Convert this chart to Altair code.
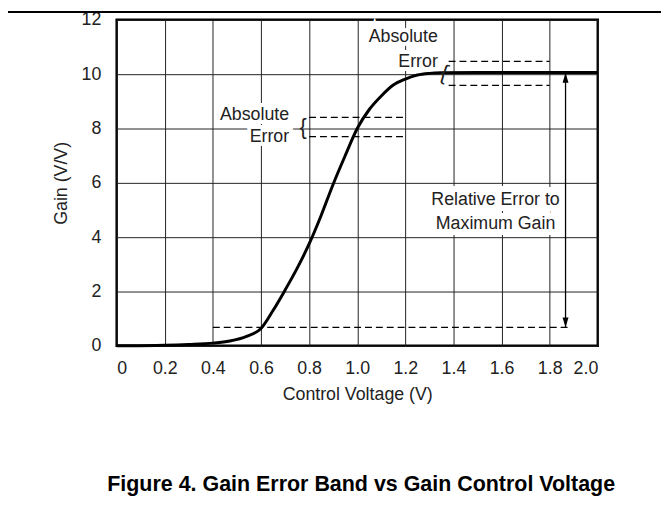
import altair as alt
import pandas as pd

FONT = "Liberation Sans"

# Gain curve (Control Voltage V -> Gain V/V)
curve_x = [0.0, 0.2, 0.3, 0.4, 0.47, 0.54, 0.6, 0.65, 0.7, 0.75, 0.8, 0.85, 0.9,
           0.95, 1.0, 1.05, 1.1, 1.15, 1.2, 1.25, 1.3, 1.35, 1.5, 2.0]
curve_y = [0.0, 0.02, 0.05, 0.1, 0.18, 0.35, 0.64, 1.3, 2.05, 2.85, 3.75, 4.8, 5.95,
           7.0, 8.0, 8.7, 9.2, 9.6, 9.82, 9.97, 10.03, 10.05, 10.06, 10.06]

# Dashed reference segments
dash_x1 = [0.4, 0.8, 0.8, 1.38, 1.38]
dash_x2 = [1.88, 1.2, 1.2, 1.8, 1.8]
dash_y = [0.68, 8.41, 7.70, 10.47, 9.59]

# Double arrow (relative error)
arrow_x = [1.866]
arrow_top = [10.05]
arrow_bottom = [0.68]

# Labels
right_text = ["Absolute", "Error", "Absolute", "Error"]
right_x = [1.335, 1.335, 0.717, 0.717]
right_y = [11.35, 10.44, 8.5, 7.67]

center_text = ["Relative Error to", "Maximum Gain"]
center_x = [1.575, 1.575]
center_y = [5.35, 4.5]

brace_x = [0.775, 1.362]
brace_y = [8.05, 10.05]
brace_angle = [0, 18]

x_ticks = [0, 0.2, 0.4, 0.6, 0.8, 1.0, 1.2, 1.4, 1.6, 1.8, 2.0]
y_ticks = [0, 2, 4, 6, 8, 10, 12]

curve_df = pd.DataFrame({"x": curve_x, "y": curve_y})
dash_df = pd.DataFrame({"x": dash_x1, "x2": dash_x2, "y": dash_y})
arrow_df = pd.DataFrame({"x": arrow_x, "y": arrow_bottom, "y2": arrow_top})
arrow_top_df = pd.DataFrame({"x": arrow_x, "y": arrow_top})
arrow_bot_df = pd.DataFrame({"x": arrow_x, "y": arrow_bottom})
right_df = pd.DataFrame({"x": right_x, "y": right_y, "t": right_text})
center_df = pd.DataFrame({"x": center_x, "y": center_y, "t": center_text})
brace_df = pd.DataFrame({"x": brace_x, "y": brace_y, "a": brace_angle})

xscale = alt.Scale(domain=[0, 2], nice=False)
yscale = alt.Scale(domain=[0, 12], nice=False)

X = alt.X("x:Q", scale=xscale, title="Control Voltage (V)",
          axis=alt.Axis(values=x_ticks,
                        labelExpr="datum.value == 0 ? '0' : format(datum.value, '.1f')"))
Y = alt.Y("y:Q", scale=yscale, title="Gain (V/V)", axis=alt.Axis(values=y_ticks))

curve = alt.Chart(curve_df).mark_line(
    interpolate="monotone", color="black", strokeWidth=3
).encode(x=X, y=Y)

dashes = alt.Chart(dash_df).mark_rule(
    color="black", strokeWidth=1.2, strokeDash=[7, 4]
).encode(x="x:Q", x2="x2:Q", y="y:Q")

shaft = alt.Chart(arrow_df).mark_rule(color="black", strokeWidth=1.3).encode(
    x="x:Q", y="y:Q", y2="y2:Q")

head_up = alt.Chart(arrow_top_df).mark_point(
    shape="M0,-1L0.6,1L-0.6,1Z", size=100, filled=True, color="black", opacity=1,
    yOffset=5
).encode(x="x:Q", y="y:Q")

head_down = alt.Chart(arrow_bot_df).mark_point(
    shape="M0,1L0.6,-1L-0.6,-1Z", size=100, filled=True, color="black", opacity=1,
    yOffset=-5
).encode(x="x:Q", y="y:Q")

TXT = dict(baseline="middle", fontSize=18, font=FONT)

right_halo = alt.Chart(right_df).mark_text(
    align="right", color="white", stroke="white", strokeWidth=8, **TXT
).encode(x="x:Q", y="y:Q", text="t:N")
right_labels = alt.Chart(right_df).mark_text(
    align="right", color="#222", **TXT
).encode(x="x:Q", y="y:Q", text="t:N")

center_halo = alt.Chart(center_df).mark_text(
    align="center", color="white", stroke="white", strokeWidth=12, **TXT
).encode(x="x:Q", y="y:Q", text="t:N")
center_labels = alt.Chart(center_df).mark_text(
    align="center", color="#222", **TXT
).encode(x="x:Q", y="y:Q", text="t:N")

braces = alt.Chart(brace_df).mark_text(
    align="center", baseline="middle", fontSize=22, font=FONT, color="#222",
    fontWeight=300, text="{"
).encode(x="x:Q", y="y:Q", angle=alt.Angle("a:Q", scale=None))

top_rule = alt.Chart(curve_df).mark_rule(color="black", strokeWidth=1.5).encode(
    x=alt.value(-110), x2=alt.value(551), y=alt.value(-8))

chart = alt.layer(
    right_halo, center_halo,
    curve, dashes, shaft, head_up, head_down,
    right_labels, center_labels, braces, top_rule
).properties(
    width=487, height=330,
    autosize="none",
    padding={"left": 110, "top": 9, "right": 64, "bottom": 150},
    title=alt.TitleParams(
        "Figure 4. Gain Error Band vs Gain Control Voltage",
        orient="bottom", anchor="middle", frame="group", font=FONT, fontSize=21.7,
        fontWeight="bold", color="black", offset=72, dx=4
    ),
).configure_view(
    stroke="black", strokeWidth=2.5
).configure_axis(
    grid=True, gridColor="#222", gridWidth=1, gridOpacity=1,
    domain=False, ticks=False,
    labelFont=FONT, labelFontSize=18, labelColor="#222",
    titleFont=FONT, titleFontSize=18, titleColor="#222", titleFontWeight="normal",
).configure_axisX(labelPadding=14, titlePadding=8).configure_axisY(
    labelPadding=16, titlePadding=11)

chart.save("out.html", embed_options={"renderer": "svg", "actions": False})
